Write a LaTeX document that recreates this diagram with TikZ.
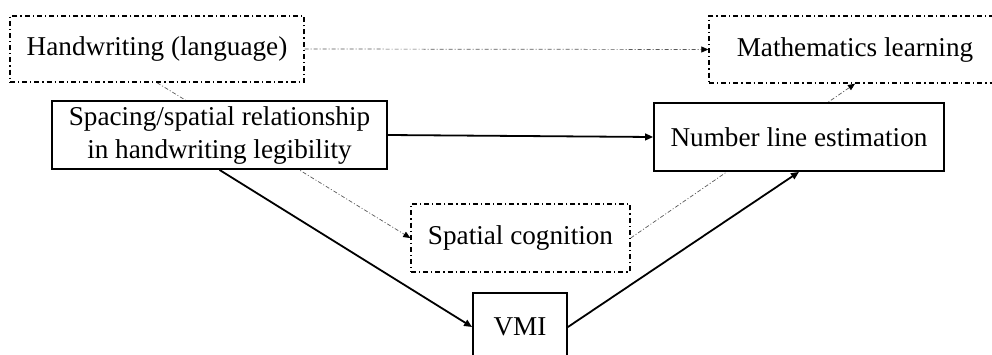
\documentclass[tikz,border=0pt]{standalone}
\usepackage{fontspec}
\setmainfont{Liberation Serif}
\usetikzlibrary{arrows.meta,backgrounds}

\begin{document}
\begin{tikzpicture}[x=0.5pt,y=-0.5pt,
    font=\fontsize{13.6}{16.5}\selectfont,
    solidbox/.style={draw, line width=0.9pt, fill=white, align=center, inner sep=0pt},
    dashbox/.style={draw, line width=0.7pt, dash pattern=on 2.5pt off 1.5pt on 0.6pt off 1.5pt, fill=white, align=center, inner sep=0pt},
    mainarrow/.style={-{Triangle[length=4pt,width=3.4pt]}, line width=0.9pt},
    thinarrow/.style={-{Triangle[length=3.5pt,width=3pt,black]}, line width=0.35pt, black!65, dash pattern=on 2pt off 1pt on 0.5pt off 1pt}]
    % Clip to the frame
    \clip (0,0) rectangle (992,354);

    % Define the boxes
    \node[dashbox, minimum width=147pt, minimum height=33pt] (hand) at (157,49) {Handwriting (language)};
    \node[dashbox, minimum width=146pt, minimum height=33.5pt] (math) at (855,49.5) {Mathematics learning};
    \node[solidbox, minimum width=167.5pt, minimum height=34pt] (spacing) at (219.5,135) {Spacing/spatial relationship\\in handwriting legibility};
    \node[solidbox, minimum width=145pt, minimum height=34pt] (number) at (799,137) {Number line estimation};
    \node[dashbox, minimum width=109.5pt, minimum height=34pt] (spatial) at (520.5,238) {Spatial cognition};
    \node[solidbox, minimum width=47pt, minimum height=34pt] (vmi) at (520,327) {VMI};

    % Draw dotted paths behind the boxes
    \begin{pgfonlayer}{background}
        \draw[thinarrow] (hand.south) -- (spatial.west);
        \draw[thinarrow] (spatial.east) -- (math.south);
    \end{pgfonlayer}
    \draw[thinarrow] (hand.east) -- (math.west);

    % Draw solid paths
    \draw[mainarrow] (spacing.east) -- (number.west);
    \draw[mainarrow] (spacing.south) -- (vmi.west);
    \draw[mainarrow] (vmi.east) -- (number.south);
\end{tikzpicture}
\end{document}
